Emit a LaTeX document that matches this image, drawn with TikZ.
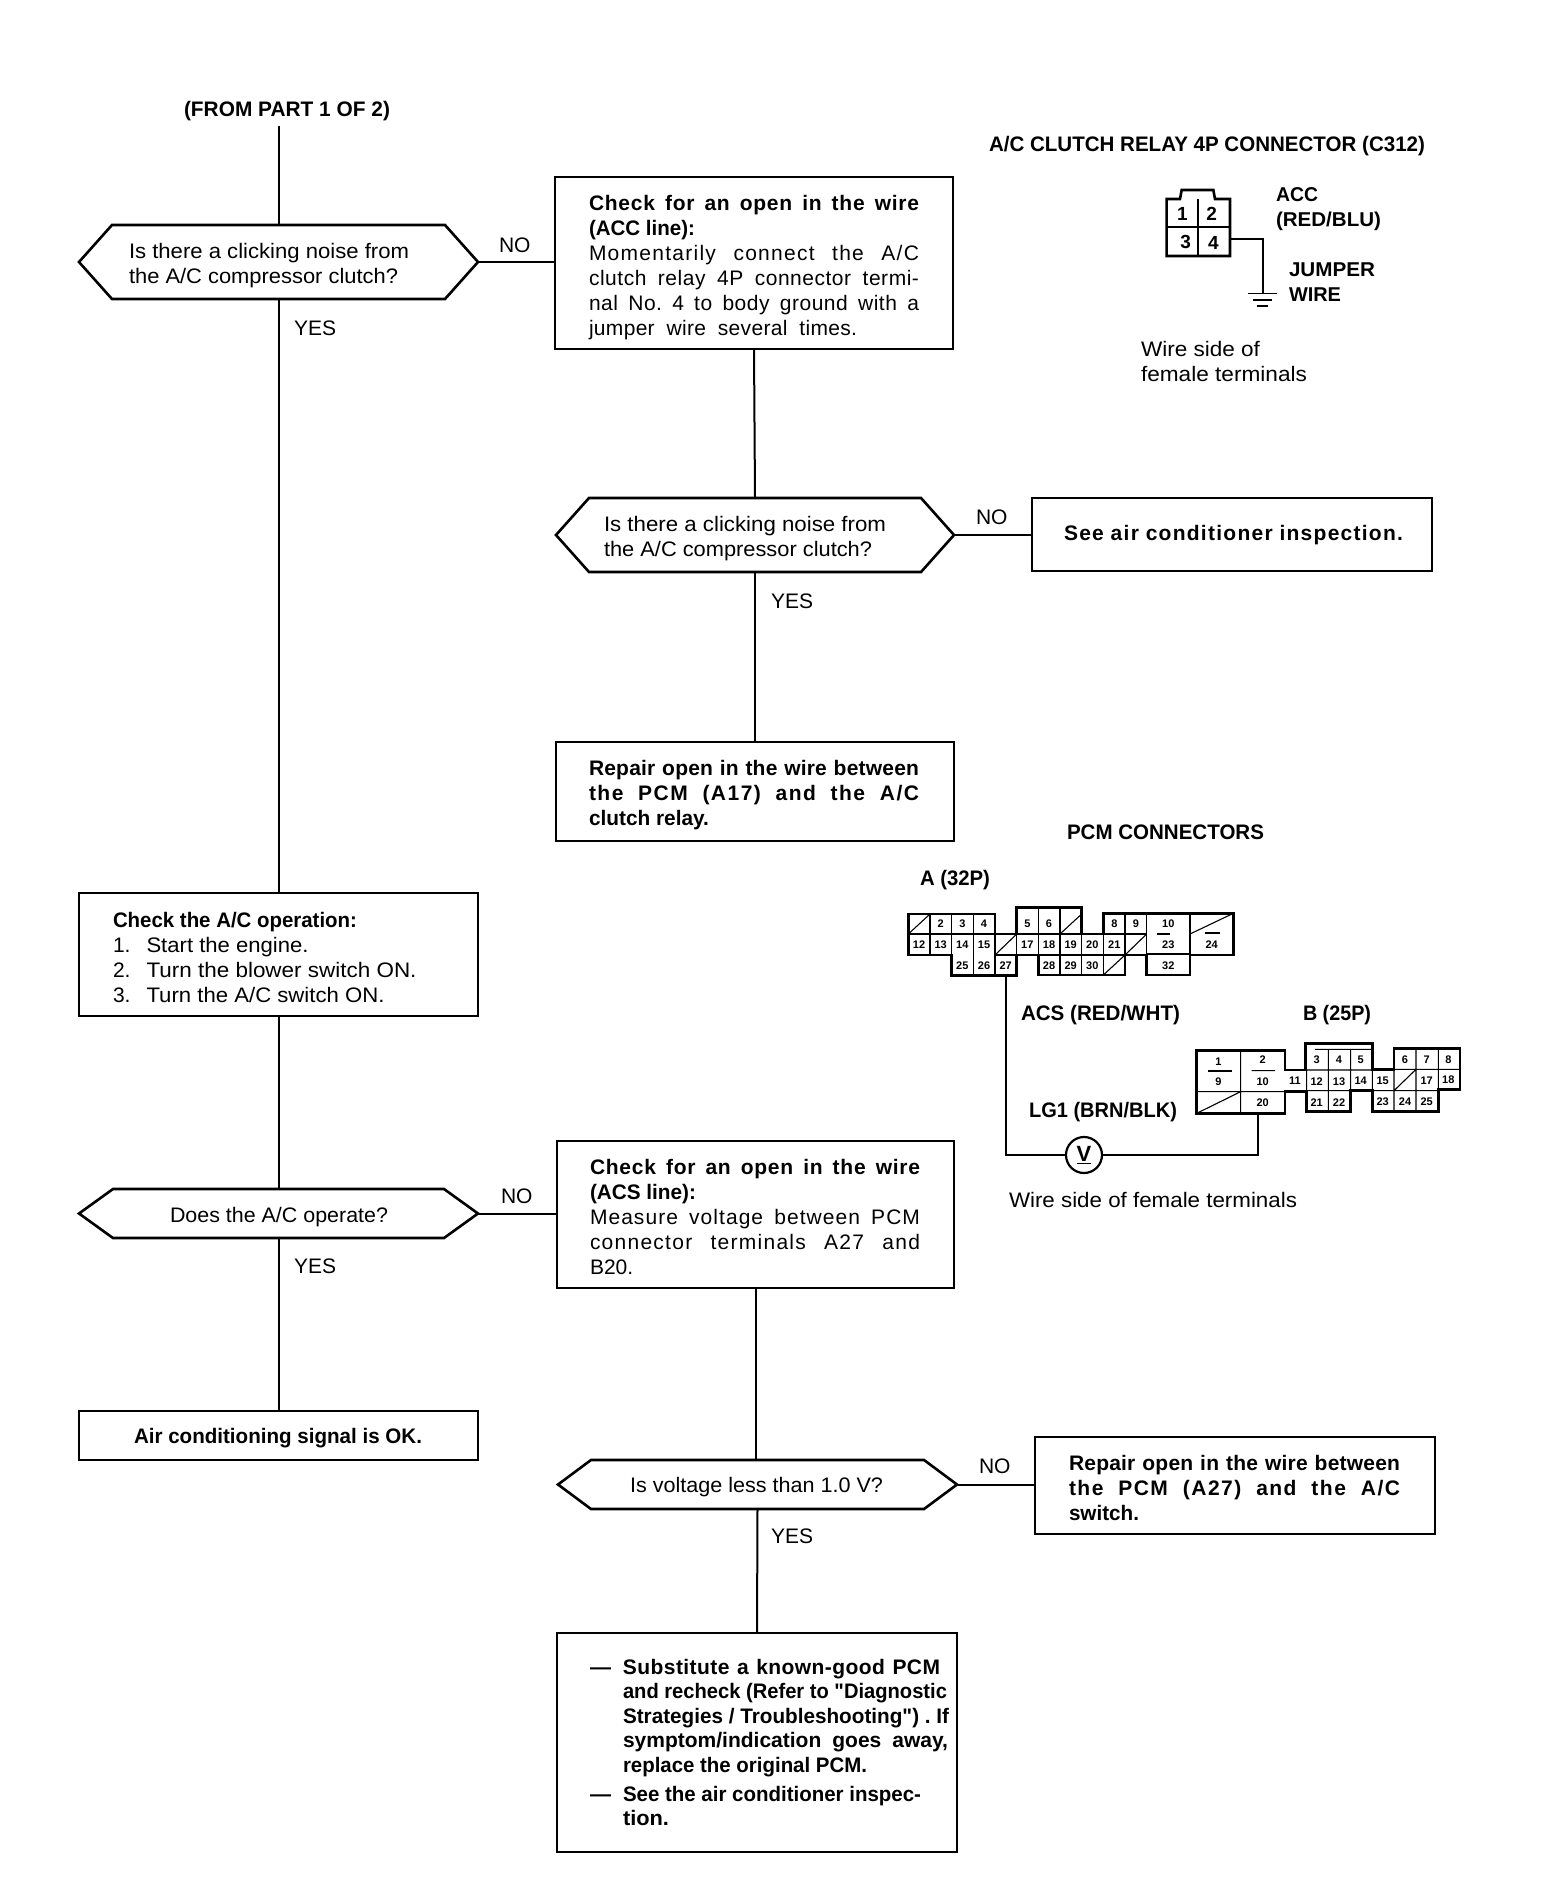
\documentclass[tikz,border=0pt]{standalone}
\usepackage{fontspec}
\usepackage{graphicx}
\setmainfont{Liberation Sans}
\newfontfamily\qfont{Liberation Sans}
\frenchspacing
\newcommand\fw[2]{\resizebox{#1pt}{\height}{#2}}
\newcommand\js[2]{\makebox[#1pt][s]{#2}}
\newcommand\ls[3]{\makebox[#1pt][s]{\addfontfeature{LetterSpace=#2}#3}}
\newcommand\boxn[5]{%
  \pgfmathsetmacro\bw{#4-#2}\pgfmathsetmacro\bh{#5-#3}%
  \node[flowbox,minimum width=\bw pt,minimum height=\bh pt] (#1) at ({(#2+#4)/2},{(#3+#5)/2}) {};}
\newcommand\hexn[6]{%
  \pgfmathsetmacro\bw{#4-#2}\pgfmathsetmacro\bh{#5-#3}%
  \node[hexgeom,minimum width=\bw pt,minimum height=\bh pt] (#1) at ({(#2+#4)/2},{(#3+#5)/2}) {};
  \draw[hexline] (#1.west) -- ([xshift=#6pt]#1.north west) -- ([xshift=-#6pt]#1.north east) -- (#1.east)
    -- ([xshift=-#6pt]#1.south east) -- ([xshift=#6pt]#1.south west) -- cycle;}
\tikzset{
  flowbox/.style={draw,line width=2.6pt,rectangle,inner sep=0pt,outer sep=0pt},
  hexgeom/.style={rectangle,inner sep=0pt,outer sep=0pt},
  hexline/.style={line width=2.6pt,line join=miter},
  link/.style={line width=2pt},
  txt/.style={inner sep=0pt,outer sep=0pt,align=left,anchor=west,font=\fontsize{21}{25}\selectfont},
  btxt/.style={inner sep=0pt,outer sep=0pt,align=left,anchor=west,font=\fontsize{21}{25}\bfseries\selectfont},
  pinA/.style={inner sep=0pt,outer sep=0pt,font=\fontsize{11}{11}\bfseries\selectfont},
  pinC/.style={inner sep=0pt,outer sep=0pt,font=\fontsize{19}{19}\bfseries\selectfont},
  conn/.style={line width=2.6pt,line join=miter},
  cellline/.style={line width=1.1pt},
  wire/.style={line width=2.2pt},
  meter/.style={circle,draw,line width=2.2pt,minimum size=36pt,inner sep=0pt,outer sep=0pt,font=\fontsize{22}{22}\bfseries\selectfont}
}
\begin{document}
\begin{tikzpicture}[x=1pt,y=-1pt]
\useasboundingbox (0,0) rectangle (1568,1898);
\fill[white] (0,0) rectangle (1568,1898);

% ---------- flow shapes
\hexn{d1}{79}{225}{478}{299}{33}
\boxn{b1}{555}{177}{953}{349}
\hexn{d2}{556}{498}{954}{572}{33}
\boxn{see}{1032}{498}{1432}{571}
\boxn{rep1}{556}{742}{954}{841}
\boxn{chk}{79}{893}{478}{1016}
\hexn{d3}{79}{1189}{478}{1238}{34}
\boxn{b3}{557}{1141}{954}{1288}
\boxn{ok}{79}{1411}{478}{1460}
\hexn{d4}{558}{1460}{957}{1509}{33}
\boxn{rep2}{1035}{1437}{1435}{1534}
\boxn{fin}{557}{1633}{957}{1852}

% ---------- flow texts
\node[btxt] (from) at (184,111) {\fw{206}{(FROM PART 1 OF 2)}};
\coordinate (start) at (d1.north |- 0,126);

\node[txt] (d1t) at (129,265.5) {\fw{280}{Is there a clicking noise from}\\\fw{269}{the A/C compressor clutch?}};
\node[txt] (no1) at (499,245) {NO};
\node[txt] (yes1) at (294,328) {YES};
\node[txt] (b1t) at (589,267.5) {\textbf{\ls{330}{3.5}{Check for an open in the wire}}\\\textbf{\fw{106}{(ACC line):}}\\\ls{330}{6}{Momentarily connect the A/C}\\\ls{330}{2.5}{clutch relay 4P connector termi-}\\\ls{330}{2.5}{nal No. 4 to body ground with a}\\\ls{268}{1.5}{jumper wire several times.}};

\node[txt] (d2t) at (604,539) {\fw{282}{Is there a clicking noise from}\\\fw{268}{the A/C compressor clutch?}};
\node[txt] (no2) at (976,517) {NO};
\node[txt] (yes2) at (771,601) {YES};
\node[btxt] (seet) at (1064,535) {\ls{339}{6}{See air conditioner inspection.}};
\node[btxt] (rep1t) at (589,795.5) {\ls{330}{1}{Repair open in the wire between}\\\ls{330}{7}{the PCM (A17) and the A/C}\\\fw{120}{clutch relay.}};

\node[txt] (chkt) at (113,957) {\textbf{\fw{244}{Check the A/C operation:}}\\1.\hspace{16pt}\fw{162}{Start the engine.}\\2.\hspace{16pt}\fw{270}{Turn the blower switch ON.}\\3.\hspace{16pt}\fw{238}{Turn the A/C switch ON.}};

\node[txt] (d3t) at (170,1217) {\fw{218}{Does the A/C operate?}};
\node[txt] (no3) at (501,1196) {NO};
\node[txt] (yes3) at (294,1266) {YES};
\node[txt] (b3t) at (590,1217) {\textbf{\ls{330}{3.5}{Check for an open in the wire}}\\\textbf{\fw{106}{(ACS line):}}\\\ls{330}{5}{Measure voltage between PCM}\\\ls{330}{6}{connector terminals A27 and}\\B20.};

\node[btxt] (okt) at (134,1438) {\fw{288}{Air conditioning signal is OK.}};
\node[txt] (d4t) at (630,1487) {\fw{253}{Is voltage less than 1.0 V?}};
\node[txt] (no4) at (979,1466) {NO};
\node[txt] (yes4) at (771,1536) {YES};
\node[btxt] (rep2t) at (1069,1488) {\ls{331}{1}{Repair open in the wire between}\\\ls{331}{7}{the PCM (A27) and the A/C}\\\fw{70}{switch.}};

\node[btxt,font=\fontsize{21}{24.5}\bfseries\selectfont] (fint) at (623,1742.5) {%
  \llap{\makebox[33pt][l]{—}}\ls{317}{2}{Substitute a known-good PCM}\\
  \fw{324}{and recheck (Refer to {\qfont\bfseries"}Diagnostic}\\
  \fw{326}{Strategies / Troubleshooting{\qfont\bfseries"}) . If}\\
  \js{325}{symptom/indication goes away,}\\
  \fw{244}{replace the original PCM.}\\[4.5pt]
  \llap{\makebox[33pt][l]{—}}\fw{298}{See the air conditioner inspec-}\\
  \fw{46}{tion.}};

% ---------- flow connectors
\draw[link] (start) -- (d1.north);
\draw[link] (d1.south) -- (chk.north);
\draw[link] (chk.south) -- (d3.north);
\draw[link] (d3.south) -- (ok.north);
\draw[link] (d1.east) -- (d1.east -| b1.west);
\draw[link] (b1.south) -- (d2.north);
\draw[link] (d2.east) -- (d2.east -| see.west);
\draw[link] (d2.south) -- (rep1.north);
\draw[link] (d3.east) -- (d3.east -| b3.west);
\draw[link] (b3.south) -- (b3.south |- d4.north);
\draw[link] (d4.east) -- (d4.east -| rep2.west);
\draw[link] (d4.south) -- (fin.north);

% ---------- A/C clutch relay connector
\node[btxt] (ctitle) at (989,146) {\fw{436}{A/C CLUTCH RELAY 4P CONNECTOR (C312)}};
\begin{scope}[shift={(960,120)},x=0.33333pt,y=-0.33333pt]
  \draw[conn] (620,237) -- (660,237) -- (665,210) -- (760,210) -- (765,237) -- (810,237) -- (810,408) -- (620,408) -- cycle;
  \draw[cellline,line width=2pt] (715,237) -- (715,408) (620,322) -- (810,322);
  \node[pinC] (c1) at (667,283) {1};
  \node[pinC] (c2) at (755,283) {2};
  \node[pinC] (c3) at (677,367) {3};
  \node[pinC] (c4) at (760,370) {4};
  \coordinate (c4e) at (810,357);
  \coordinate (gnd) at (910,520);
  \draw[line width=1.4pt] (865,520) -- (950,520) (880,540) -- (935,540) (890,558) -- (925,558);
\end{scope}
\draw[wire] (c4e) -| (gnd);
\node[btxt,font=\fontsize{20}{25}\bfseries\selectfont] (acc) at (1276,209.5) {\fw{42}{ACC}\\\fw{105}{(RED/BLU)}};
\node[btxt,font=\fontsize{20}{25}\bfseries\selectfont] (jump) at (1289,282.5) {\fw{86}{JUMPER}\\\fw{52}{WIRE}};
\node[txt] (wsf) at (1141,361) {\fw{119}{Wire side of}\\\fw{166}{female terminals}};

% ---------- PCM connectors
\node[btxt] (pcmt) at (1067,832) {\fw{197}{PCM CONNECTORS}};
\node[btxt] (atitle) at (920,880) {\fw{70}{A (32P)}};
\begin{scope}[shift={(880,810)},x=0.33333pt,y=-0.33333pt]
  \draw[cellline] (150,312) -- (150,435) (215,312) -- (215,497) (280,312) -- (280,497) (345,372) -- (345,497)
     (410,372) -- (410,435) (475,293) -- (475,497) (540,293) -- (540,497) (605,372) -- (605,495) (670,372) -- (670,497)
     (735,310) -- (735,435) (800,310) -- (800,495) (930,310) -- (930,495)
     (85,372) -- (345,372) (410,372) -- (800,372) (345,435) -- (735,435)
     (830,372) -- (870,372) (800,432) -- (930,432) ;
  \draw[line width=2pt] (975,368) -- (1020,368);
  \draw[cellline] (85,372) -- (150,312) (345,435) -- (410,372) (540,372) -- (605,312) (735,435) -- (800,372)
     (670,495) -- (735,435) (930,372) -- (1060,310);
  \draw[conn] (85,312) -- (345,312) -- (345,372) -- (410,372) -- (410,293) -- (605,293) -- (605,372) -- (670,372) -- (670,310)
     -- (1060,310) -- (1060,435) -- (930,435) -- (930,495) -- (800,495) -- (800,435) -- (735,435) -- (735,495) -- (475,495)
     -- (475,435) -- (410,435) -- (410,497) -- (215,497) -- (215,435) -- (85,435) -- cycle;
  \foreach \n/\xx/\yy in {2/182/342,3/247/342,4/312/342,5/442/342,6/507/342,8/703/342,9/768/342,10/865/340,
     12/117/403,13/182/403,14/247/403,15/312/403,17/442/403,18/507/403,19/572/403,20/637/403,21/703/403,23/865/403,24/995/403,
     25/247/467,26/312/467,27/377/467,28/507/467,29/572/467,30/637/467,32/865/467}
    \node[pinA] (a\n) at (\xx,\yy) {\n};
  \coordinate (a27b) at (377,497);
\end{scope}
\node[btxt] (acs) at (1021,1015) {\fw{159}{ACS (RED/WHT)}};
\node[btxt] (btitle) at (1303,1015) {\fw{68}{B (25P)}};
\begin{scope}[shift={(990,980)},x=0.33333pt,y=-0.33333pt]
  \draw[cellline] (752,212) -- (752,400) (950,270) -- (950,335) (1015,208) -- (1015,395) (1082,208) -- (1082,395)
     (1147,268) -- (1147,395) (1212,205) -- (1212,395) (1278,205) -- (1278,395) (1345,205) -- (1345,328)
     (620,335) -- (885,335) (885,332) -- (1345,332) (950,270) -- (1147,270) (1212,268) -- (1410,268)
     (975,208) -- (1147,208) (785,272) -- (855,272) (620,400) -- (752,335) (1212,332) -- (1278,268);
  \draw[line width=2pt] (655,274) -- (725,274);
  \draw[conn] (620,212) -- (885,212) -- (885,270) -- (947,270) -- (947,190) -- (1147,190) -- (1147,268) -- (1212,268)
     -- (1212,205) -- (1410,205) -- (1410,328) -- (1345,328) -- (1345,395) -- (1147,395) -- (1147,332) -- (1082,332)
     -- (1082,395) -- (950,395) -- (950,335) -- (885,335) -- (885,400) -- (620,400) -- cycle;
  \foreach \n/\xx/\yy in {1/685/245,9/685/305,2/818/240,10/818/305,20/818/368,11/915/303,3/980/240,12/980/305,21/980/367,
     4/1047/240,13/1047/305,22/1047/367,5/1112/240,14/1112/303,15/1178/303,23/1178/365,6/1245/240,24/1245/365,
     7/1310/240,17/1310/303,25/1310/365,8/1375/238,18/1375/300}
    \node[pinA] (p\n) at (\xx,\yy) {\n};
  \coordinate (b20b) at (803,400);
\end{scope}
\node[btxt] (lg) at (1029,1112) {\fw{148}{LG1 (BRN/BLK)}};
\node[meter] (vm) at (1084,1155) {\underline{V}};
\draw[wire] (a27b) |- (vm.west);
\draw[wire] (vm.east) -| (b20b);
\node[txt] (wsf2) at (1009,1200) {\fw{288}{Wire side of female terminals}};
\end{tikzpicture}
\end{document}
